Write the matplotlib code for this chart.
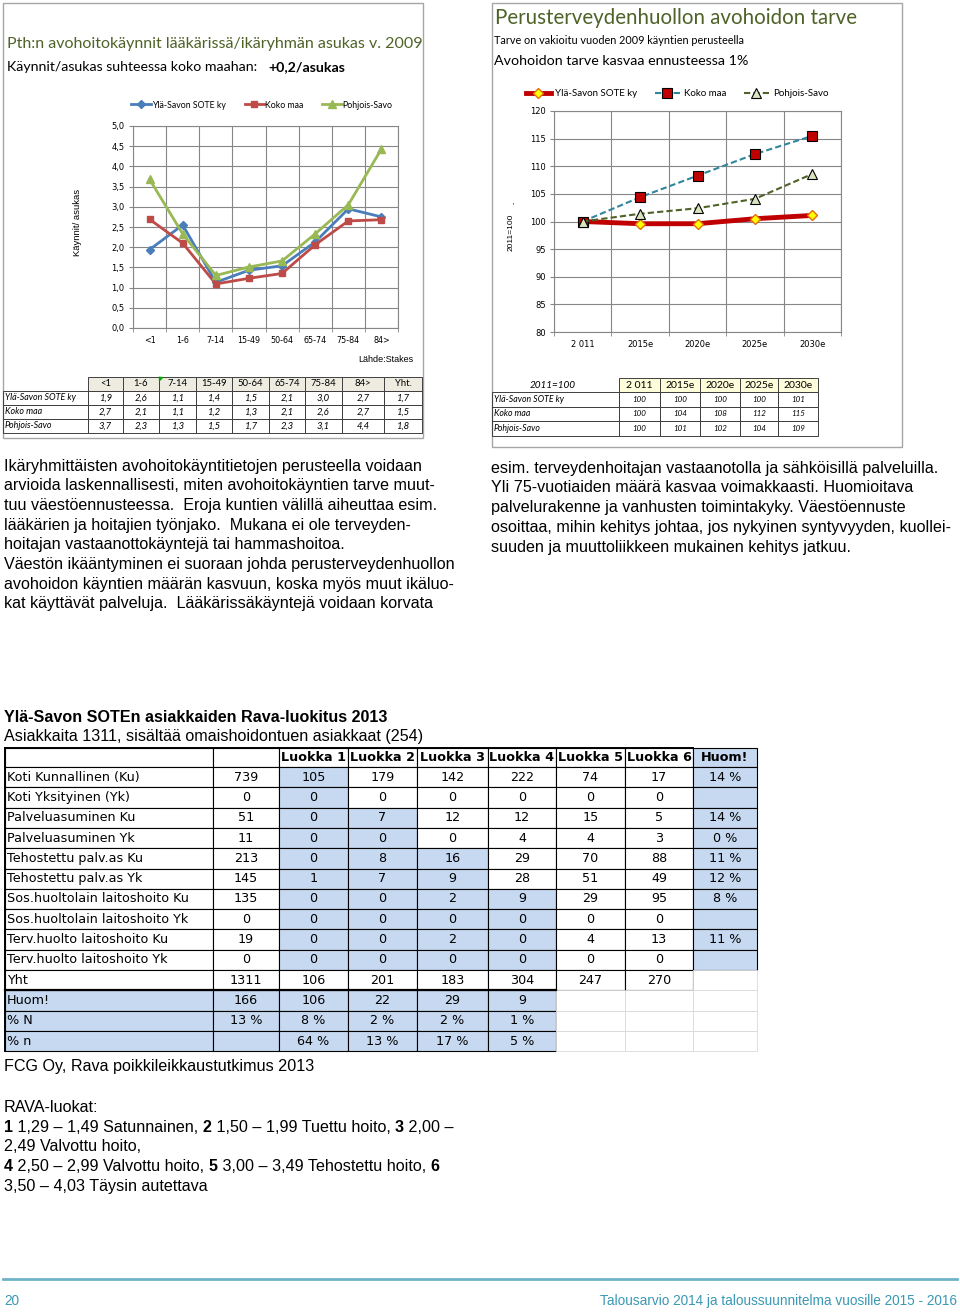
import matplotlib
matplotlib.use("Agg")
import matplotlib.pyplot as plt
from matplotlib.patches import Rectangle
from matplotlib.ticker import FixedLocator, FuncFormatter

# ---- data -------------------------------------------------------------
age_groups = ["<1", "1-6", "7-14", "15-49", "50-64", "65-74", "75-84", "84>"]
visits_ylasavo = [1.94, 2.55, 1.13, 1.43, 1.54, 2.13, 2.95, 2.75]
visits_kokomaa = [2.69, 2.10, 1.09, 1.23, 1.35, 2.06, 2.65, 2.68]
visits_pohjoissavo = [3.68, 2.33, 1.30, 1.51, 1.66, 2.33, 3.05, 4.43]
visits_table = [
    ("Ylä-Savon SOTE ky", ["1,9", "2,6", "1,1", "1,4", "1,5", "2,1", "3,0", "2,7", "1,7"]),
    ("Koko maa", ["2,7", "2,1", "1,1", "1,2", "1,3", "2,1", "2,6", "2,7", "1,5"]),
    ("Pohjois-Savo", ["3,7", "2,3", "1,3", "1,5", "1,7", "2,3", "3,1", "4,4", "1,8"]),
]

years = ["2 011", "2015e", "2020e", "2025e", "2030e"]
need_ylasavo = [100, 99.6, 99.6, 100.5, 101.1]
need_kokomaa = [100, 104.4, 108.3, 112.2, 115.5]
need_pohjoissavo = [100, 101.4, 102.4, 104.1, 108.6]
need_table = [
    ("Ylä-Savon SOTE ky", ["100", "100", "100", "100", "101"]),
    ("Koko maa", ["100", "104", "108", "112", "115"]),
    ("Pohjois-Savo", ["100", "101", "102", "104", "109"]),
]

rava_header = ["", "", "Luokka 1", "Luokka 2", "Luokka 3", "Luokka 4", "Luokka 5", "Luokka 6", "Huom!"]
rava_rows = ["Koti Kunnallinen (Ku)", "Koti Yksityinen (Yk)", "Palveluasuminen Ku", "Palveluasuminen Yk",
             "Tehostettu palv.as Ku", "Tehostettu palv.as Yk", "Sos.huoltolain laitoshoito Ku",
             "Sos.huoltolain laitoshoito Yk", "Terv.huolto laitoshoito Ku", "Terv.huolto laitoshoito Yk",
             "Yht", "Huom!", "% N", "% n"]
rava_total = ["739", "0", "51", "11", "213", "145", "135", "0", "19", "0", "1311", "166", "13 %", ""]
rava_l1 = ["105", "0", "0", "0", "0", "1", "0", "0", "0", "0", "106", "106", "8 %", "64 %"]
rava_l2 = ["179", "0", "7", "0", "8", "7", "0", "0", "0", "0", "201", "22", "2 %", "13 %"]
rava_l3 = ["142", "0", "12", "0", "16", "9", "2", "0", "2", "0", "183", "29", "2 %", "17 %"]
rava_l4 = ["222", "0", "12", "4", "29", "28", "9", "0", "0", "0", "304", "9", "1 %", "5 %"]
rava_l5 = ["74", "0", "15", "4", "70", "51", "29", "0", "4", "0", "247", "", "", ""]
rava_l6 = ["17", "0", "5", "3", "88", "49", "95", "0", "13", "0", "270", "", "", ""]
rava_huom = ["14 %", "", "14 %", "0 %", "11 %", "12 %", "8 %", "", "11 %", "", "", "", "", ""]

para_left = [
    "Ikäryhmittäisten avohoitokäyntitietojen perusteella voidaan",
    "arvioida laskennallisesti, miten avohoitokäyntien tarve muut-",
    "tuu väestöennusteessa.  Eroja kuntien välillä aiheuttaa esim.",
    "lääkärien ja hoitajien työnjako.  Mukana ei ole terveyden-",
    "hoitajan vastaanottokäyntejä tai hammashoitoa.",
    "Väestön ikääntyminen ei suoraan johda perusterveydenhuollon",
    "avohoidon käyntien määrän kasvuun, koska myös muut ikäluo-",
    "kat käyttävät palveluja.  Lääkärissäkäyntejä voidaan korvata",
]
para_right = [
    "esim. terveydenhoitajan vastaanotolla ja sähköisillä palveluilla.",
    "Yli 75-vuotiaiden määrä kasvaa voimakkaasti. Huomioitava",
    "palvelurakenne ja vanhusten toimintakyky. Väestöennuste",
    "osoittaa, mihin kehitys johtaa, jos nykyinen syntyvyyden, kuollei-",
    "suuden ja muuttoliikkeen mukainen kehitys jatkuu.",
]
rava_legend = [
    [("1", True), (" 1,29 – 1,49 Satunnainen, ", False), ("2", True), (" 1,50 – 1,99 Tuettu hoito, ", False),
     ("3", True), (" 2,00 –", False)],
    [("2,49 Valvottu hoito,", False)],
    [("4", True), (" 2,50 – 2,99 Valvottu hoito, ", False), ("5", True), (" 3,00 – 3,49 Tehostettu hoito, ", False),
     ("6", True)],
    [("3,50 – 4,03 Täysin autettava", False)],
]

# ---- page -------------------------------------------------------------
W, H = 960, 1313
fig = plt.figure(figsize=(9.6, 13.13), dpi=100)
bg = fig.add_axes([0, 0, 1, 1])
bg.set_xlim(0, W)
bg.set_ylim(H, 0)
bg.axis("off")

OLIVE = "#4f6228"
SANS = ["Liberation Sans", "DejaVu Sans"]
CAL = ["Lato", "DejaVu Sans"]
BODY = 11.6


def axrect(x0, y0, x1, y1):
    return [x0 / W, 1 - y1 / H, (x1 - x0) / W, (y1 - y0) / H]


def rich(x, y, segs, size, family):
    r = fig.canvas.get_renderer()
    for s, b in segs:
        t = bg.text(x, y, s, fontsize=size, family=family, fontweight="bold" if b else "normal",
                    va="center", ha="left")
        x = t.get_window_extent(renderer=r).x1


def cell(x0, y0, x1, y1, fc="none", ec="black", lw=0.8):
    bg.add_patch(Rectangle((x0, y0), x1 - x0, y1 - y0, fc=fc, ec=ec, lw=lw))


# ---- left panel -------------------------------------------------------
bg.add_patch(Rectangle((3, 3), 420, 435, fc="none", ec="#a6a6a6", lw=1))
bg.text(7, 44, "Pth:n avohoitokäynnit lääkärissä/ikäryhmän asukas v. 2009", fontsize=11.5,
        family=CAL, color=OLIVE, va="center")
rich(7, 67, [("Käynnit/asukas suhteessa koko maahan:   ", False), ("+0,2/asukas", True)], 10.2, CAL)

ax1 = fig.add_axes(axrect(133, 126, 398, 328))
xs = range(len(age_groups))
ax1.plot(xs, visits_ylasavo, color="#4a7ebb", lw=2, marker="D", ms=4.5, label="Ylä-Savon SOTE ky")
ax1.plot(xs, visits_kokomaa, color="#be4b48", lw=2, marker="s", ms=5, label="Koko maa")
ax1.plot(xs, visits_pohjoissavo, color="#98b954", lw=2, marker="^", ms=6, label="Pohjois-Savo")
ax1.set_xlim(-0.5, len(age_groups) - 0.5)
ax1.set_ylim(0, 5)
ax1.set_yticks([i * 0.5 for i in range(11)])
ax1.yaxis.set_major_formatter(FuncFormatter(lambda v, p: f"{v:.1f}".replace(".", ",")))
ax1.set_xticks(list(xs))
ax1.set_xticklabels(age_groups)
ax1.xaxis.set_minor_locator(FixedLocator([i - 0.5 for i in range(len(age_groups) + 1)]))
ax1.tick_params(axis="x", which="major", length=0, labelsize=5.8, pad=6)
ax1.tick_params(axis="x", which="minor", length=3, color="#868686")
ax1.tick_params(axis="y", length=3, color="#868686", labelsize=6, pad=3)
ax1.grid(axis="y", color="#868686", lw=0.8)
ax1.grid(axis="x", which="minor", color="#868686", lw=0.8)
for sp in ax1.spines.values():
    sp.set_color("#868686")
ax1.legend(loc="center", bbox_to_anchor=(262 / W, 1 - 105 / H), bbox_transform=fig.transFigure,
           ncol=3, frameon=False, handlelength=2.2, columnspacing=2.2, handletextpad=0.1,
           prop={"family": CAL, "size": 6.3})
bg.text(78, 222, "Käynnit/ asukas", rotation=90, fontsize=6.8, family=SANS, ha="center", va="center")
bg.text(413, 360, "Lähde:Stakes", fontsize=6.5, family=SANS, ha="right", va="center")

# left table
lcols = [88, 123, 159, 196, 232, 269, 305, 342, 384, 422]
lhead = age_groups + ["Yht."]
lrows = [377, 391, 405, 419, 433]
for i, h in enumerate(lhead):
    cell(lcols[i], lrows[0], lcols[i + 1], lrows[1], fc="#eeece1", ec="#404040", lw=0.7)
    bg.text((lcols[i] + lcols[i + 1]) / 2, (lrows[0] + lrows[1]) / 2, h, fontsize=6.8, family=CAL,
            ha="center", va="center")
bg.plot([159.5, 162.5, 159.5, 159.5], [377.5, 377.5, 380.5, 377.5], color="#00a000", lw=1)
for r, (name, vals) in enumerate(visits_table):
    ya, yb = lrows[r + 1], lrows[r + 2]
    cell(3, ya, lcols[0], yb, ec="#404040", lw=0.7)
    bg.text(5, (ya + yb) / 2, name, fontsize=6.4, family=CAL, style="italic", va="center")
    for i, v in enumerate(vals):
        cell(lcols[i], ya, lcols[i + 1], yb, ec="#404040", lw=0.7)
        bg.text((lcols[i] + lcols[i + 1]) / 2, (ya + yb) / 2, v, fontsize=6.8, family=CAL,
                style="italic", ha="center", va="center")

# ---- right panel ------------------------------------------------------
bg.add_patch(Rectangle((492, 3), 410, 444, fc="none", ec="#a6a6a6", lw=1))
bg.text(495, 18, "Perusterveydenhuollon avohoidon tarve", fontsize=14.8, family=CAL, color=OLIVE, va="center")
bg.text(494, 41, "Tarve on vakioitu vuoden 2009 käyntien perusteella", fontsize=7.8, family=CAL, va="center")
bg.text(494, 61, "Avohoidon tarve kasvaa ennusteessa 1%", fontsize=10.3, family=CAL, va="center")

ax2 = fig.add_axes(axrect(554, 111, 841, 332))
xs2 = range(len(years))
ax2.plot(xs2, need_ylasavo, color="#c00000", lw=3.5, marker="D", ms=5.5, mfc="#ffff00", mec="#e46c0a",
         mew=1, label="Ylä-Savon SOTE ky")
ax2.plot(xs2, need_kokomaa, color="#31859c", lw=1.5, ls=(0, (3, 1.5)), marker="s", ms=6.5, mfc="#c00000",
         mec="black", mew=0.8, label="Koko maa")
ax2.plot(xs2, need_pohjoissavo, color=OLIVE, lw=1.5, ls=(0, (3, 1.5)), marker="^", ms=6.5, mfc="#d7e4bd",
         mec="black", mew=0.8, label="Pohjois-Savo")
ax2.set_xlim(-0.5, len(years) - 0.5)
ax2.set_ylim(80, 120)
ax2.set_yticks(range(80, 121, 5))
ax2.set_xticks(list(xs2))
ax2.set_xticklabels(years)
ax2.xaxis.set_minor_locator(FixedLocator([i - 0.5 for i in range(len(years) + 1)]))
ax2.tick_params(axis="x", which="major", length=0, labelsize=6, pad=6)
ax2.tick_params(axis="x", which="minor", length=3, color="#868686")
ax2.tick_params(axis="y", length=3, color="#868686", labelsize=6, pad=3)
ax2.grid(axis="y", color="#868686", lw=0.8)
ax2.grid(axis="x", which="minor", color="#868686", lw=0.8)
for sp in ax2.spines.values():
    sp.set_color("#868686")
ax2.legend(loc="center", bbox_to_anchor=(677 / W, 1 - 94 / H), bbox_transform=fig.transFigure,
           ncol=3, frameon=False, handlelength=2.6, columnspacing=1.8, handletextpad=0.4,
           prop={"family": CAL, "size": 7})
bg.text(511, 232, "2011=100", rotation=90, fontsize=6, family=SANS, ha="center", va="center")
bg.text(514, 203, "-", rotation=90, fontsize=5, family=SANS, ha="center", va="center")

# right table
rcols = [619, 660, 700, 740, 778, 818]
rrows = [378, 392, 407, 421, 436]
bg.text(553, 385, "2011=100", fontsize=7.2, family=CAL, style="italic", ha="center", va="center")
for i, h in enumerate(years):
    cell(rcols[i], rrows[0], rcols[i + 1], rrows[1], fc="#fdfdd9", ec="#404040", lw=0.7)
    bg.text((rcols[i] + rcols[i + 1]) / 2, (rrows[0] + rrows[1]) / 2, h, fontsize=7.5, family=CAL,
            ha="center", va="center")
for r, (name, vals) in enumerate(need_table):
    ya, yb = rrows[r + 1], rrows[r + 2]
    cell(492, ya, rcols[0], yb, ec="#404040", lw=0.7)
    bg.text(494, (ya + yb) / 2, name, fontsize=6.3, family=CAL, style="italic", va="center")
    for i, v in enumerate(vals):
        cell(rcols[i], ya, rcols[i + 1], yb, ec="#404040", lw=0.7)
        bg.text((rcols[i] + rcols[i + 1]) / 2, (ya + yb) / 2, v, fontsize=5.8, family=CAL,
                style="italic", ha="center", va="center")

# ---- paragraphs -------------------------------------------------------
for i, line in enumerate(para_left):
    bg.text(4, 466 + i * 19.7, line, fontsize=BODY, family=SANS, va="center")
for i, line in enumerate(para_right):
    bg.text(491, 468 + i * 19.8, line, fontsize=BODY, family=SANS, va="center")

# ---- RAVA table -------------------------------------------------------
bg.text(4, 717, "Ylä-Savon SOTEn asiakkaiden Rava-luokitus 2013", fontsize=BODY, family=SANS,
        fontweight="bold", va="center")
bg.text(4, 737, "Asiakkaita 1311, sisältää omaishoidontuen asiakkaat (254)", fontsize=BODY, family=SANS,
        va="center")

BLUE = "#c6d9f1"
TF = 9.2
tcols = [5, 213, 279, 348, 417, 488, 556, 625, 693, 757]
ty = [748, 767] + [767 + 20.3 * (i + 1) for i in range(len(rava_rows))]
columns = [rava_rows, rava_total, rava_l1, rava_l2, rava_l3, rava_l4, rava_l5, rava_l6, rava_huom]
blue_from = {2: 0, 3: 2, 4: 4, 5: 6}
for c in range(len(tcols) - 1):
    xa, xb = tcols[c], tcols[c + 1]
    fc = BLUE if c == 8 else "white"
    cell(xa, ty[0], xb, ty[1], fc=fc)
    bg.text((xa + xb) / 2, (ty[0] + ty[1]) / 2, rava_header[c], fontsize=TF, family=["DejaVu Sans"],
            fontweight="bold", ha="center", va="center")
    for r in range(len(rava_rows)):
        ya, yb = ty[r + 1], ty[r + 2]
        if r <= 9:
            blue = (c == 8) or (c in blue_from and r >= blue_from[c])
            bordered = True
        elif r == 10:
            blue = False
            bordered = c < 8
        else:
            blue = c <= 5
            bordered = c <= 5
        if bordered:
            cell(xa, ya, xb, yb, fc=BLUE if blue else "white")
        else:
            cell(xa, ya, xb, yb, fc="white", ec="#d9d9d9", lw=0.6)
        txt = columns[c][r]
        if c == 0:
            bg.text(xa + 2, (ya + yb) / 2, txt, fontsize=TF, family=["DejaVu Sans"], va="center")
        else:
            bg.text((xa + xb) / 2, (ya + yb) / 2, txt, fontsize=TF, family=["DejaVu Sans"],
                    ha="center", va="center")
bg.plot([tcols[0], tcols[6]], [ty[12], ty[12]], color="black", lw=1.6)
bg.plot([tcols[0], tcols[8]], [ty[0], ty[0]], color="black", lw=1.4)
bg.plot([tcols[0], tcols[0]], [ty[0], ty[-1]], color="black", lw=1.4)

bg.text(4, 1067, "FCG Oy, Rava poikkileikkaustutkimus 2013", fontsize=BODY, family=SANS, va="center")
bg.text(4, 1107, "RAVA-luokat:", fontsize=BODY, family=SANS, va="center")
for i, segs in enumerate(rava_legend):
    rich(4, 1127 + i * 19.7, segs, BODY, SANS)

# ---- footer -----------------------------------------------------------
bg.plot([3, 957], [1279, 1279], color="#6fb3c8", lw=2)
bg.text(4, 1301, "20", fontsize=9.8, family=SANS, color="#3a98b4", va="center")
bg.text(957, 1301, "Talousarvio 2014 ja taloussuunnitelma vuosille 2015 - 2016", fontsize=9.8, family=SANS,
        color="#3a98b4", va="center", ha="right")

fig.savefig("out.png", dpi=100)
